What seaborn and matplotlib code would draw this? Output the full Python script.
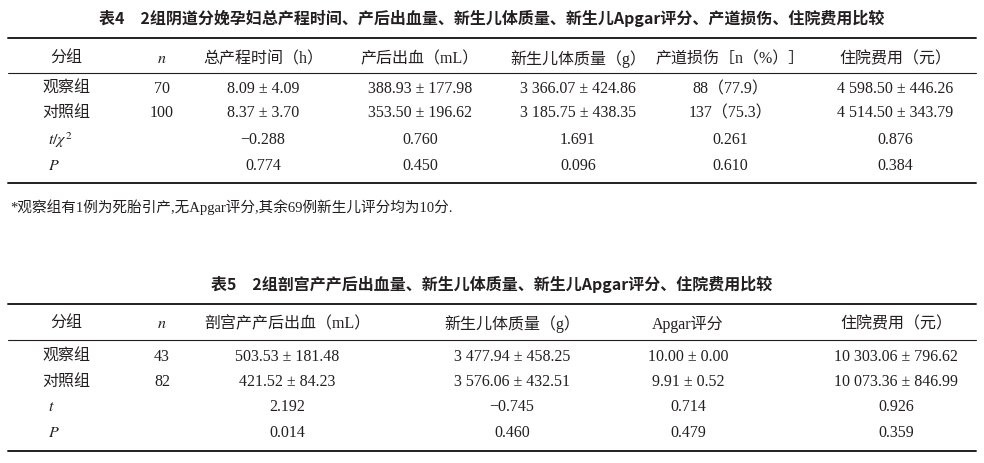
import matplotlib.pyplot as plt
import seaborn as sns

sns.set_theme(style="white")
plt.rcParams['font.family'] = ['Liberation Serif', 'Noto Sans CJK SC', 'DejaVu Sans']
plt.rcParams['mathtext.fontset'] = 'stix'

# Table 4 data
t4_title = "表4　2组阴道分娩孕妇总产程时间、产后出血量、新生儿体质量、新生儿Apgar评分、产道损伤、住院费用比较"
t4_header = ["分组", "$n$", "总产程时间（h）", "产后出血（mL）", "新生儿体质量（g）", "产道损伤［n（%）］", "住院费用（元）"]
t4_rows = [
    ["观察组", "70", "8.09 ± 4.09", "388.93 ± 177.98", "3 366.07 ± 424.86", "88（77.9）", "4 598.50 ± 446.26"],
    ["对照组", "100", "8.37 ± 3.70", "353.50 ± 196.62", "3 185.75 ± 438.35", "137（75.3）", "4 514.50 ± 343.79"],
    ["$t/\\chi^2$", "", "−0.288", "0.760", "1.691", "0.261", "0.876"],
    ["$P$", "", "0.774", "0.450", "0.096", "0.610", "0.384"],
]
t4_note = "*观察组有1例为死胎引产,无Apgar评分,其余69例新生儿评分均为10分."

# Table 5 data
t5_title = "表5　2组剖宫产产后出血量、新生儿体质量、新生儿Apgar评分、住院费用比较"
t5_header = ["分组", "$n$", "剖宫产产后出血（mL）", "新生儿体质量（g）", "Apgar评分", "住院费用（元）"]
t5_rows = [
    ["观察组", "43", "503.53 ± 181.48", "3 477.94 ± 458.25", "10.00 ± 0.00", "10 303.06 ± 796.62"],
    ["对照组", "82", "421.52 ± 84.23", "3 576.06 ± 432.51", "9.91 ± 0.52", "10 073.36 ± 846.99"],
    ["$t$", "", "2.192", "−0.745", "0.714", "0.926"],
    ["$P$", "", "0.014", "0.460", "0.479", "0.359"],
]

fig = plt.figure(figsize=(9.84, 4.63), dpi=100)
ax = fig.add_axes([0, 0, 1, 1])
ax.set_xlim(0, 984)
ax.set_ylim(463, 0)
ax.axis('off')

col = '#231f20'
fs = 11.5


def draw_table(title, header, rows, xs, y_title, y_top, y_head, y_mid, y_rows, y_bot):
    ax.text(492, y_title, title, ha='center', va='center', fontsize=11.5, fontweight='bold',
            family=['Noto Sans CJK SC', 'DejaVu Sans'], color=col)
    ax.plot([8, 976], [y_top, y_top], color=col, lw=1.4)
    ax.plot([8, 976], [y_mid, y_mid], color=col, lw=0.8)
    ax.plot([8, 976], [y_bot, y_bot], color=col, lw=1.4)
    for x, h in zip(xs, header):
        ax.text(x, y_head + 2, h, ha='center', va='center', fontsize=fs, color=col)
    for y, r in zip(y_rows, rows):
        for i, (x, v) in enumerate(zip(xs, r)):
            if i == 0 and v.startswith('$'):
                ax.text(48, y, v, ha='left', va='center', fontsize=fs, color=col)
            else:
                ax.text(x, y, v, ha='center', va='center', fontsize=fs, color=col)


draw_table(t4_title, t4_header, t4_rows, [66, 162, 263, 420, 578, 730, 895],
           18, 38, 57, 73, [89, 113, 140, 166], 183)
ax.text(10, 207, t4_note, ha='left', va='center', fontsize=10.5, color=col)
draw_table(t5_title, t5_header, t5_rows, [66, 162, 287, 512, 688, 896],
           284, 304, 322, 340, [357, 382, 407, 433], 451)

fig.savefig('out.png', dpi=100, facecolor='white')
